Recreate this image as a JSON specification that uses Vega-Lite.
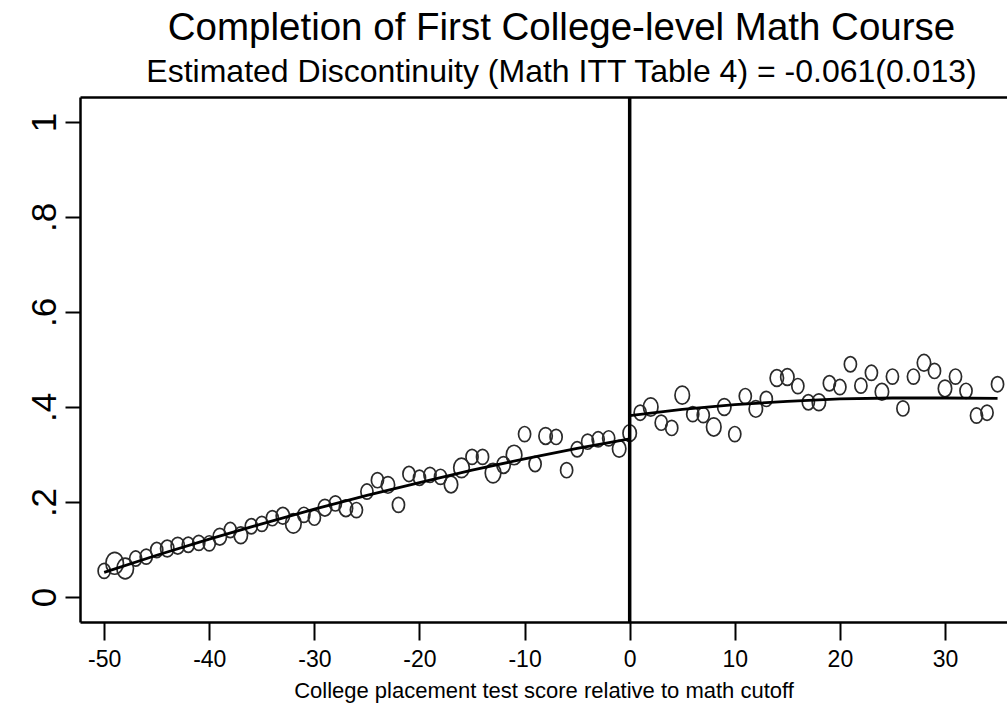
{
  "$schema": "https://vega.github.io/schema/vega-lite/v6.json",
  "width": 927,
  "height": 525,
  "autosize": {"type": "none"},
  "padding": {"left": 80, "top": 97, "right": 0, "bottom": 87},
  "background": "white",
  "config": {
    "view": {"stroke": null},
    "font": "Liberation Sans, Arial, sans-serif",
    "axis": {"grid": false, "domainColor": "black", "domainWidth": 2.5, "tickColor": "black", "tickWidth": 2, "labelColor": "black", "titleColor": "black", "labelFont": "Liberation Sans, sans-serif", "titleFont": "Liberation Sans, sans-serif", "titleFontWeight": "normal"}
  },
  "title": {
    "text": "Completion of First College-level Math Course",
    "subtitle": "Estimated Discontinuity (Math ITT Table 4) = -0.061(0.013)",
    "anchor": "middle",
    "dx": 18,
    "fontSize": 38.5,
    "fontWeight": "normal",
    "color": "black",
    "subtitleFontSize": 32,
    "subtitleColor": "black",
    "subtitlePadding": 9,
    "offset": 6,
    "font": "Liberation Sans, sans-serif",
    "subtitleFont": "Liberation Sans, sans-serif"
  },
  "datasets": {
    "cutoff": [{"x": 0}],
    "bins": [
      {"score": -50, "rate": 0.055, "n": 1.0},
      {"score": -49, "rate": 0.071, "n": 1.5},
      {"score": -48, "rate": 0.060, "n": 1.4},
      {"score": -47, "rate": 0.081, "n": 1.0},
      {"score": -46, "rate": 0.085, "n": 1.0},
      {"score": -45, "rate": 0.099, "n": 1.0},
      {"score": -44, "rate": 0.102, "n": 1.1},
      {"score": -43, "rate": 0.108, "n": 1.1},
      {"score": -42, "rate": 0.110, "n": 1.0},
      {"score": -41, "rate": 0.114, "n": 1.0},
      {"score": -40, "rate": 0.113, "n": 1.0},
      {"score": -39, "rate": 0.127, "n": 1.1},
      {"score": -38, "rate": 0.141, "n": 1.0},
      {"score": -37, "rate": 0.130, "n": 1.1},
      {"score": -36, "rate": 0.149, "n": 1.0},
      {"score": -35, "rate": 0.154, "n": 1.0},
      {"score": -34, "rate": 0.166, "n": 1.0},
      {"score": -33, "rate": 0.171, "n": 1.1},
      {"score": -32, "rate": 0.155, "n": 1.3},
      {"score": -31, "rate": 0.173, "n": 1.0},
      {"score": -30, "rate": 0.167, "n": 1.0},
      {"score": -29, "rate": 0.188, "n": 1.1},
      {"score": -28, "rate": 0.197, "n": 1.0},
      {"score": -27, "rate": 0.187, "n": 1.1},
      {"score": -26, "rate": 0.183, "n": 1.0},
      {"score": -25, "rate": 0.222, "n": 1.0},
      {"score": -24, "rate": 0.246, "n": 1.0},
      {"score": -23, "rate": 0.236, "n": 1.1},
      {"score": -22, "rate": 0.194, "n": 1.0},
      {"score": -21, "rate": 0.259, "n": 1.0},
      {"score": -20, "rate": 0.251, "n": 1.0},
      {"score": -19, "rate": 0.257, "n": 1.0},
      {"score": -18, "rate": 0.253, "n": 1.0},
      {"score": -17, "rate": 0.237, "n": 1.1},
      {"score": -16, "rate": 0.272, "n": 1.3},
      {"score": -15, "rate": 0.295, "n": 1.0},
      {"score": -14, "rate": 0.295, "n": 1.0},
      {"score": -13, "rate": 0.261, "n": 1.3},
      {"score": -12, "rate": 0.278, "n": 1.1},
      {"score": -11, "rate": 0.299, "n": 1.3},
      {"score": -10, "rate": 0.343, "n": 1.0},
      {"score": -9, "rate": 0.280, "n": 1.0},
      {"score": -8, "rate": 0.339, "n": 1.1},
      {"score": -7, "rate": 0.337, "n": 1.0},
      {"score": -6, "rate": 0.267, "n": 1.0},
      {"score": -5, "rate": 0.311, "n": 1.0},
      {"score": -4, "rate": 0.327, "n": 1.0},
      {"score": -3, "rate": 0.332, "n": 1.0},
      {"score": -2, "rate": 0.334, "n": 1.0},
      {"score": -1, "rate": 0.312, "n": 1.1},
      {"score": 0, "rate": 0.345, "n": 1.1},
      {"score": 1, "rate": 0.388, "n": 1.0},
      {"score": 2, "rate": 0.400, "n": 1.2},
      {"score": 3, "rate": 0.367, "n": 1.0},
      {"score": 4, "rate": 0.356, "n": 1.0},
      {"score": 5, "rate": 0.425, "n": 1.2},
      {"score": 6, "rate": 0.385, "n": 1.0},
      {"score": 7, "rate": 0.383, "n": 1.0},
      {"score": 8, "rate": 0.358, "n": 1.2},
      {"score": 9, "rate": 0.400, "n": 1.1},
      {"score": 10, "rate": 0.343, "n": 1.0},
      {"score": 11, "rate": 0.423, "n": 1.0},
      {"score": 12, "rate": 0.396, "n": 1.1},
      {"score": 13, "rate": 0.417, "n": 1.0},
      {"score": 14, "rate": 0.461, "n": 1.1},
      {"score": 15, "rate": 0.463, "n": 1.1},
      {"score": 16, "rate": 0.444, "n": 1.0},
      {"score": 17, "rate": 0.410, "n": 1.0},
      {"score": 18, "rate": 0.410, "n": 1.1},
      {"score": 19, "rate": 0.450, "n": 1.0},
      {"score": 20, "rate": 0.442, "n": 1.0},
      {"score": 21, "rate": 0.490, "n": 1.0},
      {"score": 22, "rate": 0.445, "n": 1.0},
      {"score": 23, "rate": 0.472, "n": 1.0},
      {"score": 24, "rate": 0.432, "n": 1.1},
      {"score": 25, "rate": 0.464, "n": 1.0},
      {"score": 26, "rate": 0.397, "n": 1.0},
      {"score": 27, "rate": 0.464, "n": 1.0},
      {"score": 28, "rate": 0.493, "n": 1.1},
      {"score": 29, "rate": 0.476, "n": 1.0},
      {"score": 30, "rate": 0.439, "n": 1.1},
      {"score": 31, "rate": 0.464, "n": 1.0},
      {"score": 32, "rate": 0.434, "n": 1.0},
      {"score": 33, "rate": 0.382, "n": 1.0},
      {"score": 34, "rate": 0.388, "n": 1.0},
      {"score": 35, "rate": 0.448, "n": 1.0}
    ],
    "fit": [
      {"score": -50, "fitted": 0.052, "side": "left"},
      {"score": -45, "fitted": 0.088, "side": "left"},
      {"score": -40, "fitted": 0.122, "side": "left"},
      {"score": -35, "fitted": 0.154, "side": "left"},
      {"score": -30, "fitted": 0.185, "side": "left"},
      {"score": -25, "fitted": 0.214, "side": "left"},
      {"score": -20, "fitted": 0.241, "side": "left"},
      {"score": -15, "fitted": 0.267, "side": "left"},
      {"score": -10, "fitted": 0.291, "side": "left"},
      {"score": -5, "fitted": 0.313, "side": "left"},
      {"score": 0, "fitted": 0.333, "side": "left"},
      {"score": 0, "fitted": 0.382, "side": "right"},
      {"score": 5, "fitted": 0.395, "side": "right"},
      {"score": 10, "fitted": 0.405, "side": "right"},
      {"score": 15, "fitted": 0.412, "side": "right"},
      {"score": 20, "fitted": 0.417, "side": "right"},
      {"score": 25, "fitted": 0.419, "side": "right"},
      {"score": 30, "fitted": 0.419, "side": "right"},
      {"score": 35, "fitted": 0.418, "side": "right"}
    ]
  },
  "resolve": {"axis": {"x": "independent", "y": "independent"}},
  "layer": [
    {
      "data": {"name": "bins"},
      "mark": {"type": "point", "shape": "M0,-1A0.8,1 0 1,1 0,1A0.8,1 0 1,1 0,-1Z", "filled": false, "stroke": "#2a2a2a", "strokeWidth": 1.7, "opacity": 1},
      "encoding": {
        "x": {"field": "score", "type": "quantitative", "scale": {"domain": [-52.3, 35.9], "nice": false, "zero": false},
          "axis": {"orient": "bottom", "values": [-50, -40, -30, -20, -10, 0, 10, 20, 30], "tickSize": 18, "labelFontSize": 23, "labelPadding": 8, "labelExpr": "'' + datum.value", "title": "College placement test score relative to math cutoff", "titleFontSize": 22, "titlePadding": 9}},
        "y": {"field": "rate", "type": "quantitative", "scale": {"domain": [-0.0526, 1.0526], "nice": false, "zero": false},
          "axis": {"orient": "left", "values": [0, 0.2, 0.4, 0.6, 0.8, 1], "tickSize": 15, "labelFontSize": 35, "labelAngle": -90, "labelAlign": "center", "labelBaseline": "bottom", "labelPadding": 3, "title": null,
            "labelExpr": "datum.value == 0 ? '0' : datum.value == 1 ? '1' : replace(format(datum.value, '.1f'), '0.', '.')"}},
        "size": {"field": "n", "type": "quantitative", "scale": {"type": "linear", "domain": [1, 1.5], "range": [230, 480]}, "legend": null}
      }
    },
    {
      "data": {"name": "fit"},
      "mark": {"type": "line", "color": "black", "strokeWidth": 2.8},
      "encoding": {
        "x": {"field": "score", "type": "quantitative", "axis": {"orient": "top", "labels": false, "ticks": false, "title": null}},
        "y": {"field": "fitted", "type": "quantitative", "axis": null},
        "detail": {"field": "side"}
      }
    },
    {
      "data": {"name": "cutoff"},
      "mark": {"type": "rule", "color": "black", "strokeWidth": 3.5},
      "encoding": {
        "x": {"field": "x", "type": "quantitative", "axis": null}
      }
    }
  ]
}
